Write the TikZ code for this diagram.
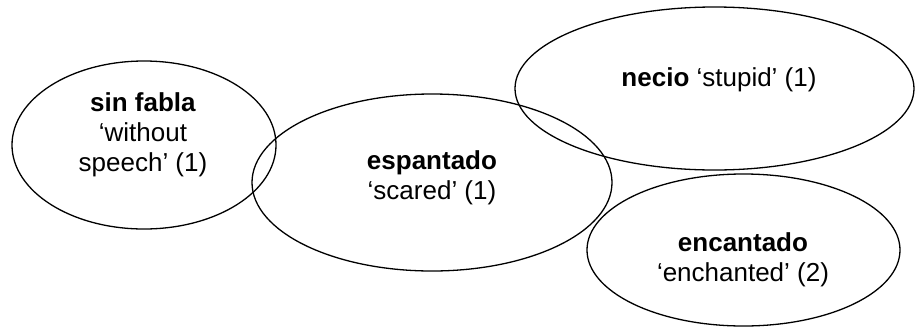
\documentclass[tikz,border=0pt]{standalone}
\usepackage{fontspec}
\setmainfont{Liberation Sans}
\usetikzlibrary{shapes.geometric}
\begin{document}
\begin{tikzpicture}[x=1pt,y=-1pt,
  blob/.style={ellipse, draw=black, line width=1.3pt, inner sep=0pt, outer sep=0pt},
  lbl/.style={align=center, inner sep=0pt, font=\fontsize{26}{30}\selectfont}]
\useasboundingbox (0,0) rectangle (916,330);
\node[blob, minimum width=264pt, minimum height=168pt] (e1) at (144,145) {};
\node[blob, minimum width=360pt, minimum height=177pt] (e2) at (432,182.5) {};
\node[blob, minimum width=399pt, minimum height=163pt] (e3) at (714.5,88.5) {};
\node[blob, minimum width=313pt, minimum height=152pt] (e4) at (743.5,250) {};
\node[lbl] (t1) at (143,135) {\textbf{sin fabla}\\‘without\\speech’ (1)};
\node[lbl] (t2) at (432,178) {\textbf{espantado}\\‘scared’ (1)};
\node[lbl] (t3) at (719,80) {\textbf{necio} ‘stupid’ (1)};
\node[lbl] (t4) at (743,260) {\textbf{encantado}\\‘enchanted’ (2)};
\end{tikzpicture}
\end{document}
